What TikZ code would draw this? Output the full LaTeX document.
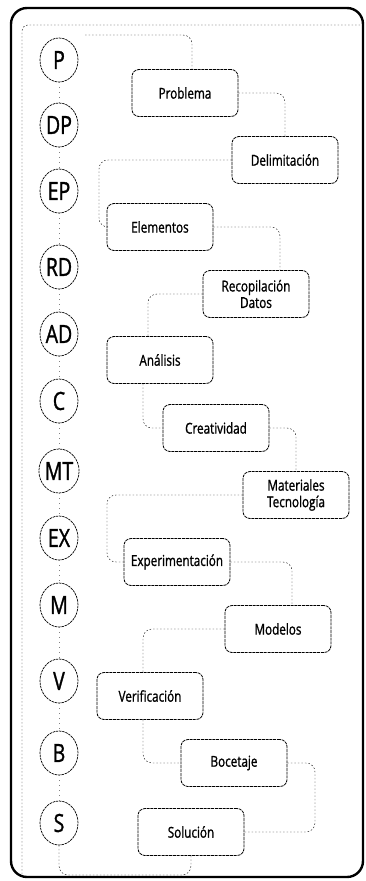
\documentclass[tikz,border=0pt]{standalone}
\usepackage{fontspec}
\setmainfont{Open Sans}[FakeStretch=0.78, FakeBold=1.2]
\usetikzlibrary{shapes.geometric}

\begin{document}
\begin{tikzpicture}[x=1pt,y=-1pt]
    \tikzstyle{etapa}=[ellipse, draw, dash pattern=on 2.5pt off 0.8pt, line width=0.7pt, minimum width=38pt, minimum height=44pt, inner sep=0pt, font=\fontsize{25}{25}\selectfont]
    \tikzstyle{caja}=[rectangle, rounded corners=7pt, draw, dash pattern=on 3pt off 0.8pt, line width=0.8pt, minimum width=106pt, minimum height=47pt, inner sep=1pt, align=center, font=\fontsize{15}{16.5}\selectfont]
    \tikzstyle{enlace}=[draw, dash pattern=on 1.5pt off 2pt, line width=0.45pt, rounded corners=9pt]
    \useasboundingbox (0,0) rectangle (366,881);
    % marco
    \draw[enlace, rounded corners=6pt] (22,874) -- (22,25) -- (362,25);
    % etapas
    \node[etapa] (c1) at (59,60){P};
    \node[etapa] (c2) at (59,125){DP};
    \node[etapa] (c3) at (59,191){EP};
    \node[etapa] (c4) at (59,267){RD};
    \node[etapa] (c5) at (59,334){AD};
    \node[etapa] (c6) at (59,401){C};
    \node[etapa] (c7) at (59,471){MT};
    \node[etapa] (c8) at (59,538){EX};
    \node[etapa] (c9) at (59,605){M};
    \node[etapa] (c10) at (59,681){V};
    \node[etapa] (c11) at (59,753){B};
    \node[etapa] (c12) at (59,823){S};
    \draw[enlace, gray, dash pattern=on 1pt off 4pt] (c1) -- (c2) -- (c3) -- (c4) -- (c5) -- (c6) -- (c7) -- (c8) -- (c9) -- (c10) -- (c11) -- (c12);
    % cajas
    \node[caja] (e1) at (185,93){Problema};
    \node[caja] (e2) at (285,160){Delimitación};
    \node[caja] (e3) at (160,227){Elementos};
    \node[caja] (e4) at (256,294){Recopilación\\Datos};
    \node[caja] (e5) at (160,360){Análisis};
    \node[caja] (e6) at (216,428){Creatividad};
    \node[caja] (e7) at (296,495){Materiales\\Tecnología};
    \node[caja] (e8) at (177,562){Experimentación};
    \node[caja] (e9) at (278,629){Modelos};
    \node[caja] (e10) at (150,696){Verificación};
    \node[caja] (e11) at (234,763){Bocetaje};
    \node[caja] (e12) at (191,832){Solución};
    \coordinate (s0) at (85,35);
    \coordinate (f0) at (59,875);
    % enlaces
    \draw[enlace] (s0) -| ([xshift=7pt]e1.north);
    \draw[enlace] (e1.east) -| (e2.north);
    \draw[enlace] (e2.west) -| (99,200) |- (e3.west);
    \draw[enlace] (e3.east) -| ([xshift=24pt]e4.north);
    \draw[enlace] (e4.west) -| ([xshift=-12pt]e5.north);
    \draw[enlace] ([xshift=-17pt]e5.south) |- (e6.west);
    \draw[enlace] (e6.east) -| (e7.north);
    \draw[enlace] (e7.west) -| (107,530) |- (e8.west);
    \draw[enlace] (e8.east) -| ([xshift=14pt]e9.north);
    \draw[enlace] (e9.west) -| ([xshift=-7pt]e10.north);
    \draw[enlace] ([xshift=-7pt]e10.south) |- (e11.west);
    \draw[enlace] (e11.east) -| (315,800) |- (e12.east);
    \draw[enlace] (c12.south) -- (f0) -| (e12.south);
    \draw[line width=2.4pt, rounded corners=16pt] (11,8) rectangle (363,877);
\end{tikzpicture}
\end{document}
